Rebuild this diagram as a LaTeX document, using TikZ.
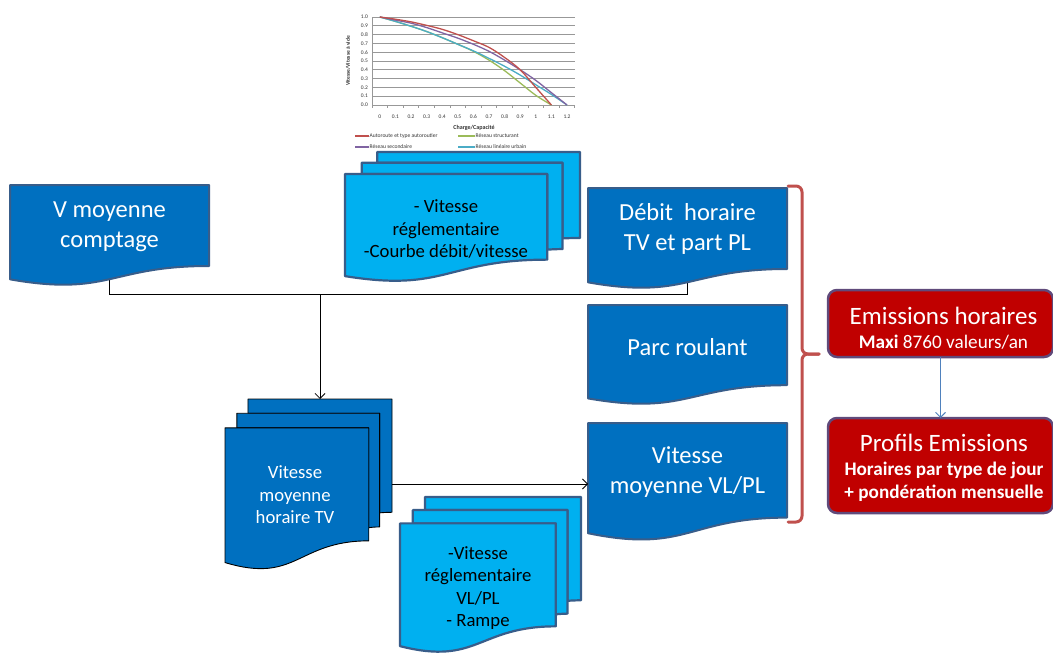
\documentclass[tikz,border=0pt]{standalone}
\usepackage{fontspec}
\setmainfont{Carlito}
\usetikzlibrary{arrows.meta,calc}
\definecolor{dblue}{HTML}{0070C0}
\definecolor{lblue}{HTML}{00B0F0}
\definecolor{bord}{HTML}{385D8A}
\definecolor{dred}{HTML}{C00000}
\definecolor{rbord}{HTML}{604A7B}
\definecolor{bracecol}{HTML}{C0504D}
\definecolor{arrblue}{HTML}{4F81BD}
\definecolor{cred}{HTML}{C0504D}
\definecolor{cgreen}{HTML}{9BBB59}
\definecolor{cpurple}{HTML}{8064A2}
\definecolor{ccyan}{HTML}{4BACC6}
\definecolor{gridcol}{HTML}{989898}
\newcommand\fsz[2]{\fontsize{#1}{#2}\selectfont}
\newcommand\singledocshape[4]{%
\begin{scope}[shift={(#1.north west)}, x=#2pt, y=-#3pt]
\draw[#4] (0,0) -- (1,0) -- (1,0.802) .. controls (0.5,0.802) and (0.5,1.107) .. (0,0.934) -- cycle;
\end{scope}}
\newcommand\multidocshape[4]{%
\begin{scope}[shift={(#1.north west)}, x=#2pt, y=-#3pt]
\draw[#4] (0.1376,0.0840) -- (0.1376,0) -- (1,0) -- (1,0.6663) .. controls (0.963,0.6663) and (0.9259,0.6698) .. (0.9259,0.6698) -- (0.9259,0.0840) -- cycle;
\draw[#4] (0.0709,0.1701) -- (0.0709,0.0840) -- (0.9259,0.0840) -- (0.9259,0.7524) .. controls (0.8934,0.7524) and (0.8609,0.7570) .. (0.8609,0.7570) -- (0.8609,0.1701) -- cycle;
\draw[#4] (0,0.9621) .. controls (0.4305,1.0899) and (0.4305,0.8344) .. (0.8609,0.8344) -- (0.8609,0.1701) -- (0,0.1701) -- cycle;
\end{scope}}
\tikzset{
 frame/.style={inner sep=0pt, outer sep=0pt},
 darkdoc/.style={fill=dblue, draw=bord, line width=2pt, line join=round},
 lightdoc/.style={fill=lblue, draw=bord, line width=2.2pt, line join=round},
 tvstyle/.style={fill=dblue, draw=black, line width=0.9pt, line join=round},
 bigtxt/.style={text=white, align=center, font=\fsz{24.5}{29.5}},
 doctxt/.style={align=center, font=\fsz{18.7}{22.5}},
 redbox/.style={frame, fill=dred, draw=rbord, line width=2.5pt, rounded corners=9pt},
 redbig/.style={text=white, font=\fsz{25}{29}},
 redsmall/.style={text=white, font=\fsz{19.2}{22}},
 conn/.style={draw=black, line width=0.8pt},
 arrowend/.style={-{Straight Barb[length=5pt,width=10pt]}},
 bracestyle/.style={draw=bracecol, line width=3pt, rounded corners=6pt, line cap=round},
 gridline/.style={draw=gridcol, line width=0.7pt},
 ticklab/.style={font=\fsz{5.5}{6}, text=black!80, inner sep=0pt},
 legtxt/.style={font=\fsz{5.6}{6}, text=black!80, inner sep=0pt, anchor=west},
 curve/.style={line width=1.3pt, smooth, tension=0.55},
 legline/.style={line width=1.3pt}
}
\begin{document}
\begin{tikzpicture}[x=1pt,y=-1pt]
\useasboundingbox (0,0) rectangle (1053,653);
\fill[white] (0,0) rectangle (1053,653);

% ---------------- chart ----------------
\begin{scope}[shift={(379.8,105)}, x=15.6pt, y=88pt]
 \foreach \t [count=\i from 0] in {0.0,0.1,0.2,0.3,0.4,0.5,0.6,0.7,0.8,0.9,1.0} {
   \draw[gridline] (-0.5,\i/10) -- (12.5,\i/10);
   \node[ticklab, anchor=east] (yl\i) at (-0.75,\i/10) {\t};
 }
 \draw[gridline] (-0.5,0) -- (-0.5,1);
 \foreach \k in {0,...,13} { \draw[gridline] (\k-0.5,0) -- (\k-0.5,-0.035); }
 \foreach \t [count=\k from 0] in {0,0.1,0.2,0.3,0.4,0.5,0.6,0.7,0.8,0.9,1,1.1,1.2} {
   \node[ticklab] (xl\k) at (\k,-0.136) {\t};
 }
 \draw[cgreen, curve] plot coordinates {(0,1) (1,0.95) (2,0.895) (3,0.835) (4,0.765) (5,0.69) (6,0.61) (7,0.51) (8,0.39) (9,0.25) (10,0.11) (11,0)};
 \draw[ccyan, curve] plot coordinates {(0,1) (1,0.95) (2,0.895) (3,0.835) (4,0.765) (5,0.69) (6,0.615) (7,0.53) (8,0.44) (9,0.34) (10,0.23) (11,0.12) (12,0)};
 \draw[cpurple, curve] plot coordinates {(0,1) (1,0.965) (2,0.93) (3,0.88) (4,0.82) (5,0.76) (6,0.69) (7,0.61) (8,0.51) (9,0.40) (10,0.28) (11,0.14) (12,0)};
 \draw[cred, curve] plot coordinates {(0,1) (1,0.975) (2,0.945) (3,0.905) (4,0.86) (5,0.80) (6,0.73) (7,0.655) (8,0.54) (9,0.40) (10,0.20) (11,0)};
\end{scope}
\node[font=\fsz{5.5}{6}\bfseries, text=black!80, rotate=90, inner sep=0pt] (ytitle) at (348,61) {Vitesse/Vitesse à vide};
\node[font=\fsz{6}{7}\bfseries, text=black!80, inner sep=0pt] (xtitle) at (474,128) {Charge/Capacité};
\draw[cred, legline] (355,136) -- (369,136);
\node[legtxt] (lg1) at (369.5,136) {Autoroute et type autoroutier};
\draw[cgreen, legline] (458,136) -- (475,136);
\node[legtxt] (lg2) at (475.5,136) {Réseau structurant};
\draw[cpurple, legline] (355,147) -- (369,147);
\node[legtxt] (lg3) at (369.5,147) {Réseau secondaire};
\draw[ccyan, legline] (458,147) -- (475,147);
\node[legtxt] (lg4) at (475.5,147) {Réseau linéaire urbain};

% ---------------- frames ----------------
\node[frame, minimum width=199pt, minimum height=101pt] (vmoy) at (109.5,235.5) {};
\node[frame, minimum width=199pt, minimum height=101pt] (debit) at (687.5,238.5) {};
\node[frame, minimum width=199pt, minimum height=100pt] (parc) at (687.5,355) {};
\node[frame, minimum width=199pt, minimum height=118pt] (vlpl) at (687.5,482) {};
\node[frame, minimum width=235pt, minimum height=129pt] (topdoc) at (462.5,216.5) {};
\node[frame, minimum width=167pt, minimum height=170pt] (tvdoc) at (308.5,484) {};
\node[frame, minimum width=181pt, minimum height=155pt] (botdoc) at (490.5,574.5) {};

% ---------------- connectors behind ----------------
\coordinate (tvtop) at ($(tvdoc.north west)!0.569!(tvdoc.north east)$);
\coordinate (lev) at (0,294);
\coordinate (jn) at (tvtop |- lev);
\draw[conn] ($(vmoy.south)+(0,-12)$) |- (jn);
\draw[conn] ($(debit.south)+(0,-12)$) |- (jn);

% ---------------- shapes ----------------
\singledocshape{vmoy}{199}{101}{darkdoc}
\singledocshape{debit}{199}{101}{darkdoc}
\singledocshape{parc}{199}{100}{darkdoc}
\singledocshape{vlpl}{199}{118}{darkdoc}
\multidocshape{topdoc}{235}{129}{lightdoc}
\multidocshape{tvdoc}{167}{170}{tvstyle}
\multidocshape{botdoc}{181}{155}{lightdoc}

\node[bigtxt] (vmoyT) at (109.5,226.5) {V moyenne\\comptage};
\node[bigtxt] (debitT) at (687.5,229) {Débit~ horaire\\TV et part PL};
\node[bigtxt] (parcT) at (687.5,347) {Parc roulant};
\node[bigtxt] (vlplT) at (687.5,472) {Vitesse\\moyenne VL/PL};
\node[doctxt] (topT) at (446,229) {- Vitesse\\réglementaire\\-Courbe débit/vitesse};
\node[doctxt, text=white] (tvT) at (295,495) {Vitesse\\moyenne\\horaire TV};
\node[doctxt] (botT) at (478,588) {-Vitesse\\réglementaire\\VL/PL\\- Rampe};

% ---------------- arrows ----------------
\draw[conn, arrowend] (jn) -- (tvtop);
\draw[conn, arrowend] (tvdoc.east) -- (tvdoc.east -| vlpl.west);

% ---------------- brace ----------------
\draw[bracestyle] (788,186) -- (802,186) -- (802,354) -- (819,354);
\draw[bracestyle] (819,354) -- (802,354) -- (802,522) -- (788,522);

% ---------------- red boxes ----------------
\node[redbox, minimum width=225pt, minimum height=67pt] (emis) at (940.5,323.5) {};
\node[redbox, minimum width=225pt, minimum height=95pt] (profils) at (940.5,465.5) {};
\draw[draw=arrblue, line width=0.9pt, -{Straight Barb[length=5pt,width=10pt]}] (emis.south) -- (profils.north);
\node[redbig] (emisT1) at (943.5,316) {Emissions horaires};
\node[redsmall] (emisT2) at (943.5,342) {\textbf{Maxi} 8760 valeurs/an};
\node[redbig] (profT1) at (944,443) {Profils Emissions};
\node[redsmall, font=\fsz{19.2}{22}\bfseries] (profT2) at (944,470) {Horaires par type de jour};
\node[redsmall, font=\fsz{19.2}{22}\bfseries] (profT3) at (944,493) {+ pondération mensuelle};
\end{tikzpicture}
\end{document}
